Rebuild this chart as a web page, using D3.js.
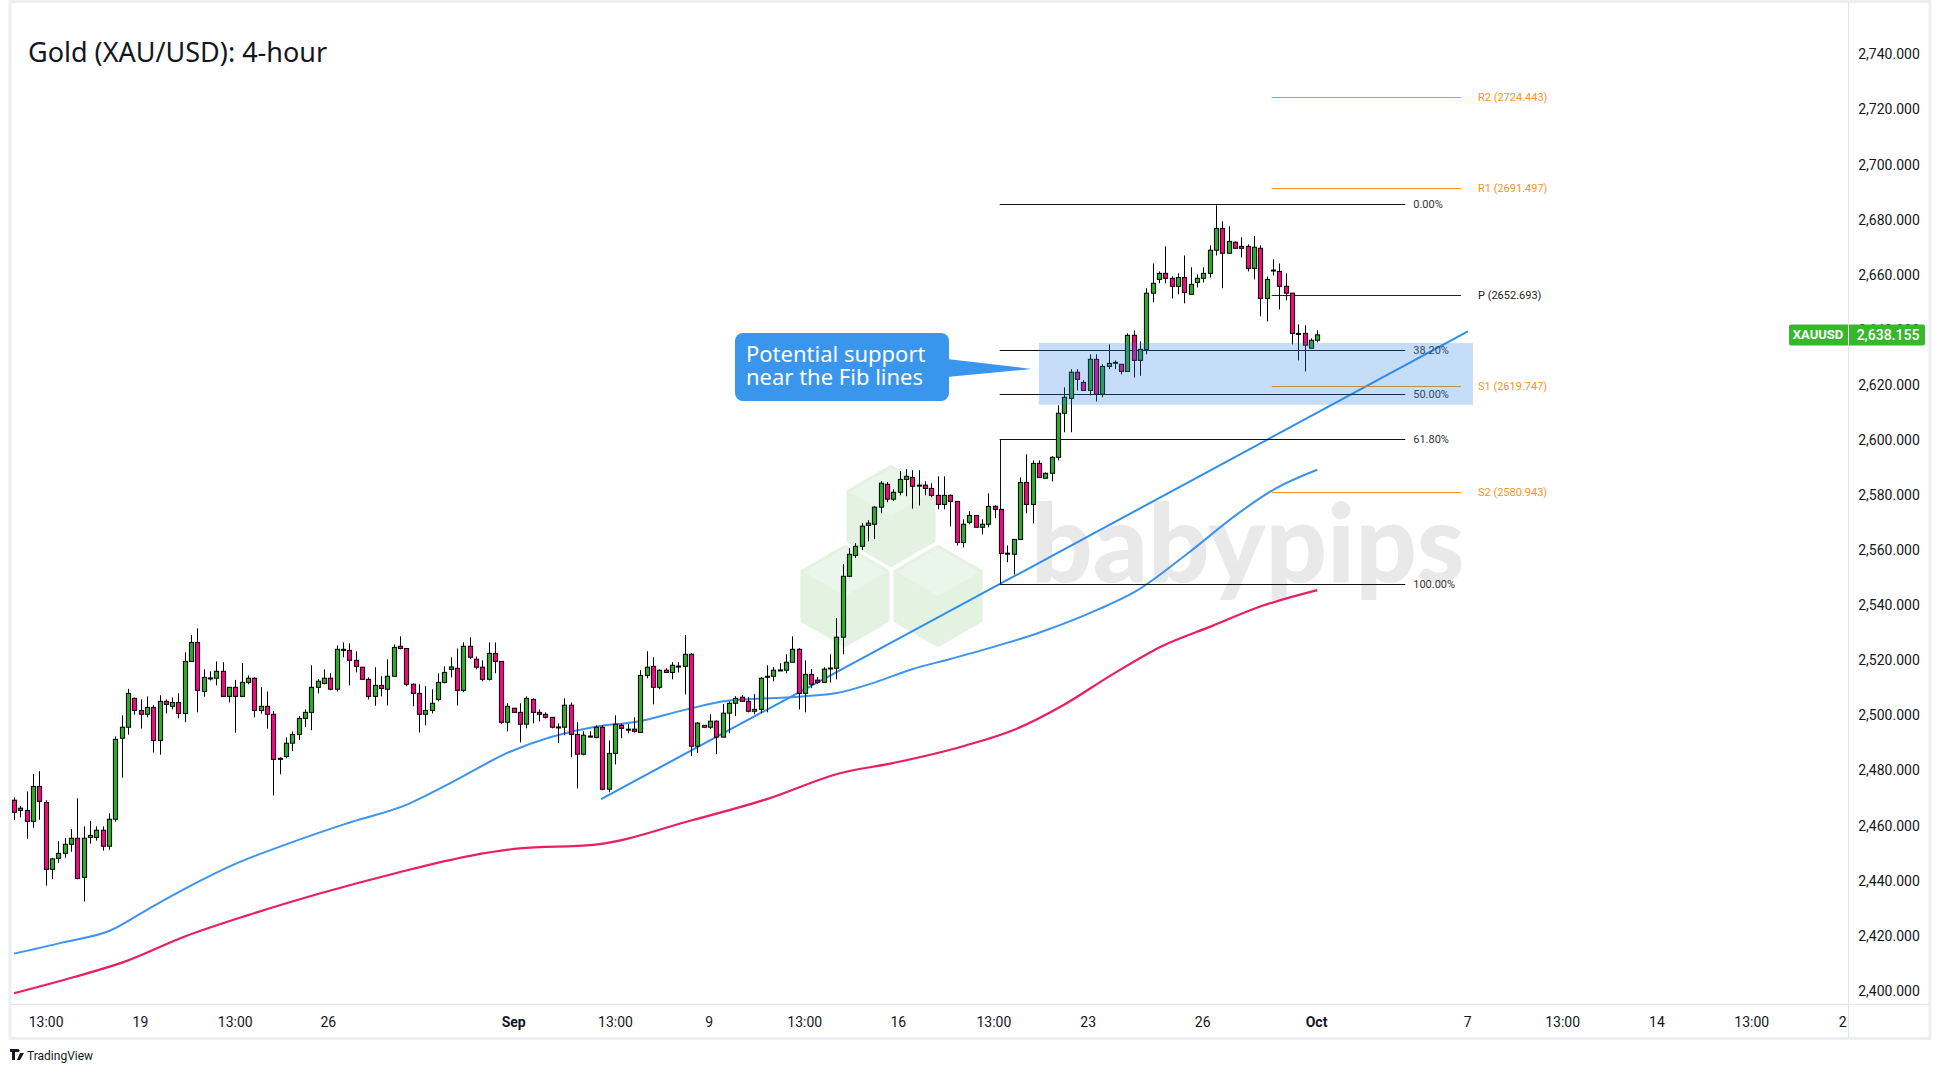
<!DOCTYPE html>
<html><head><meta charset="utf-8">
<script src="https://cdn.jsdelivr.net/npm/d3@7"></script>
<style>
html,body{margin:0;padding:0;background:#fff;}
svg{display:block;}
</style></head><body>
<svg id="c" width="1940" height="1074"></svg>
<script>
// ---- DATA ----
const openP=[2469.2,2466.3,2465.5,2461.5,2474.2,2468.4,2444.1,2448.1,2449.9,2453.2,2455.4,2441.2,2455.7,2455.7,2458.3,2452.5,2462.3,2491.7,2495.7,2506.2,2501.8,2500.4,2502.9,2490.9,2505.1,2503.3,2504.7,2500.7,2519.6,2526.5,2508.7,2513.5,2513.5,2516.0,2506.9,2510.2,2506.9,2512.0,2513.5,2501.8,2503.3,2500.4,2484.4,2485.1,2489.9,2493.1,2498.9,2501.1,2510.2,2511.6,2513.5,2509.5,2524.0,2523.6,2520.0,2517.5,2513.1,2506.9,2510.9,2509.5,2514.2,2525.1,2524.3,2511.3,2508.0,2500.4,2501.8,2505.8,2512.0,2516.7,2517.1,2509.1,2525.1,2520.4,2517.5,2513.1,2522.5,2519.6,2497.5,2502.6,2501.1,2496.8,2505.8,2501.1,2500.4,2499.3,2495.7,2495.7,2503.7,2493.1,2485.9,2492.4,2492.0,2495.7,2473.2,2486.2,2496.4,2495.0,2495.0,2493.8,2514.5,2517.8,2510.2,2516.4,2515.6,2517.8,2517.8,2522.2,2488.8,2496.4,2495.7,2497.9,2492.1,2500.8,2504.4,2506.6,2505.1,2501.5,2502.2,2513.9,2514.2,2516.4,2516.4,2519.3,2524.0,2508.0,2514.9,2512.8,2512.0,2517.1,2517.1,2528.4,2550.5,2558.1,2561.4,2569.0,2569.4,2575.6,2583.9,2578.5,2581.0,2585.7,2586.4,2583.6,2583.6,2582.4,2579.9,2576.6,2579.9,2577.7,2562.8,2570.1,2572.6,2568.3,2569.4,2575.9,2574.8,2558.8,2558.5,2563.9,2584.6,2576.6,2591.5,2586.1,2587.9,2593.7,2609.7,2615.1,2624.6,2620.9,2618.0,2629.3,2616.6,2626.7,2628.2,2627.5,2624.9,2638.0,2628.9,2632.9,2653.3,2658.3,2660.5,2658.7,2655.8,2659.0,2652.9,2657.2,2658.7,2660.5,2668.9,2676.8,2667.8,2671.8,2670.3,2670.3,2662.3,2669.6,2651.4,2661.6,2661.2,2655.8,2653.3,2638.7,2638.7,2633.3,2636.2];
const highP=[2470.2,2467.1,2472.4,2478.7,2479.7,2469.2,2448.2,2454.3,2455.5,2458.7,2469.9,2459.7,2461.7,2459.7,2459.7,2464.4,2492.4,2500.0,2509.6,2506.5,2505.8,2506.9,2503.7,2507.3,2505.8,2506.5,2508.0,2522.9,2529.2,2531.6,2516.7,2516.0,2519.6,2519.3,2510.2,2512.9,2519.0,2514.5,2513.8,2510.2,2508.7,2501.5,2484.8,2492.0,2494.2,2499.7,2502.2,2518.2,2513.1,2516.7,2515.3,2525.4,2526.5,2526.2,2523.3,2517.5,2513.8,2517.5,2514.2,2520.4,2525.8,2528.7,2524.3,2511.6,2511.3,2510.6,2509.5,2515.3,2517.8,2521.1,2524.3,2526.5,2528.3,2521.4,2520.0,2526.5,2526.5,2519.6,2504.4,2502.6,2504.4,2506.9,2506.2,2502.2,2501.1,2499.3,2497.1,2506.2,2504.7,2497.5,2494.2,2494.2,2496.4,2496.4,2490.9,2500.0,2497.1,2496.8,2499.3,2516.4,2523.3,2521.1,2516.7,2517.1,2519.3,2519.3,2529.2,2522.6,2497.5,2496.4,2500.4,2498.2,2504.1,2505.1,2507.0,2507.3,2506.6,2507.7,2513.9,2518.2,2517.5,2518.9,2522.2,2528.7,2524.4,2520.0,2516.8,2513.9,2517.5,2522.2,2535.3,2554.9,2560.7,2562.5,2569.8,2570.9,2575.9,2585.0,2584.7,2582.1,2588.7,2589.4,2589.0,2589.0,2585.0,2584.3,2586.8,2586.8,2580.2,2577.7,2571.2,2574.1,2572.6,2571.2,2580.6,2576.3,2574.8,2561.7,2563.9,2586.4,2594.8,2592.6,2592.6,2588.2,2594.1,2612.6,2619.1,2625.7,2625.7,2621.7,2631.1,2631.1,2627.5,2634.7,2628.9,2627.5,2638.7,2639.8,2635.8,2655.1,2664.1,2661.2,2670.3,2659.4,2660.5,2667.0,2662.7,2660.1,2662.7,2670.7,2685.2,2679.4,2677.6,2672.1,2673.6,2671.0,2674.0,2670.7,2659.4,2665.6,2664.1,2660.5,2653.3,2642.0,2641.6,2636.9,2639.8];
const lowP=[2462.0,2463.0,2455.2,2459.2,2462.1,2438.2,2440.5,2446.5,2448.3,2450.5,2440.5,2432.4,2453.4,2454.5,2450.9,2451.2,2461.4,2477.4,2493.0,2500.3,2495.2,2499.3,2486.5,2485.7,2500.7,2502.2,2498.9,2497.5,2519.6,2501.1,2506.8,2512.7,2510.9,2506.9,2504.7,2493.7,2506.9,2511.3,2499.3,2500.6,2495.2,2470.9,2478.6,2484.4,2487.0,2491.0,2495.7,2494.6,2508.0,2511.3,2509.1,2508.7,2521.1,2510.9,2515.6,2513.1,2505.8,2503.5,2506.9,2503.6,2514.2,2524.0,2510.6,2503.3,2493.8,2496.4,2500.7,2505.1,2511.6,2513.8,2503.6,2508.4,2520.4,2516.7,2512.4,2512.7,2515.3,2496.8,2494.2,2501.1,2490.2,2495.3,2497.1,2497.8,2498.9,2495.3,2489.9,2492.8,2484.8,2473.5,2485.5,2492.0,2491.7,2472.8,2472.1,2482.2,2491.7,2493.5,2493.8,2493.8,2513.5,2504.0,2509.5,2515.6,2513.1,2515.6,2507.6,2485.2,2486.3,2495.7,2495.0,2485.9,2492.1,2493.5,2499.7,2505.1,2501.1,2500.4,2500.8,2501.1,2512.4,2516.4,2515.3,2519.3,2502.2,2501.1,2509.9,2511.3,2512.0,2512.0,2513.1,2522.2,2550.2,2557.1,2560.0,2563.2,2564.0,2573.4,2577.4,2577.8,2579.9,2579.6,2575.1,2576.2,2579.9,2579.2,2574.8,2574.8,2568.6,2561.7,2561.0,2569.4,2568.3,2565.7,2568.3,2571.6,2558.8,2555.6,2551.2,2563.9,2573.4,2569.7,2586.4,2586.1,2585.0,2592.6,2602.8,2602.8,2618.0,2618.0,2616.2,2614.0,2615.5,2625.7,2625.7,2623.8,2624.9,2622.7,2623.3,2631.1,2650.0,2656.9,2656.9,2651.4,2652.9,2649.6,2652.9,2655.4,2657.2,2659.0,2667.0,2655.1,2667.8,2669.6,2666.3,2661.2,2658.3,2644.9,2643.1,2659.8,2647.4,2650.7,2634.7,2628.9,2624.9,2633.3,2635.4];
const closeP=[2464.8,2465.5,2461.5,2474.2,2468.8,2444.1,2447.9,2449.9,2453.2,2455.4,2440.8,2455.4,2456.4,2458.3,2452.5,2462.3,2491.3,2495.7,2508.0,2501.8,2500.4,2502.9,2490.9,2505.1,2504.0,2504.7,2500.7,2519.6,2526.5,2509.1,2513.8,2513.6,2516.0,2506.9,2510.2,2506.9,2512.0,2513.5,2501.8,2503.3,2500.4,2484.0,2484.2,2489.9,2493.1,2498.9,2501.1,2510.2,2512.4,2513.5,2509.5,2524.0,2523.6,2520.0,2517.8,2513.1,2506.9,2510.9,2509.8,2514.2,2524.7,2524.3,2511.3,2508.0,2500.4,2501.8,2504.4,2512.0,2515.6,2517.6,2509.1,2525.1,2521.1,2517.5,2513.1,2522.5,2519.6,2497.5,2503.3,2501.1,2496.8,2506.2,2501.1,2500.4,2499.3,2495.7,2495.8,2503.7,2493.1,2485.9,2492.8,2492.5,2495.7,2473.2,2486.2,2496.8,2495.3,2494.9,2494.2,2514.5,2517.5,2510.2,2516.4,2515.6,2518.2,2517.9,2522.2,2488.8,2497.2,2495.7,2497.9,2492.1,2500.8,2504.4,2506.2,2505.1,2501.5,2502.2,2513.5,2514.2,2516.4,2516.5,2519.3,2524.0,2508.0,2514.9,2511.3,2512.0,2516.8,2517.2,2528.4,2550.5,2558.5,2561.4,2568.7,2569.8,2575.6,2584.3,2578.5,2581.0,2585.7,2586.8,2583.2,2583.5,2582.4,2579.9,2576.6,2579.9,2577.7,2562.8,2569.4,2572.6,2568.3,2569.4,2575.9,2574.8,2558.8,2558.9,2563.9,2584.6,2576.6,2591.5,2586.4,2587.9,2593.7,2609.7,2615.5,2624.6,2622.0,2618.0,2629.3,2616.6,2626.7,2627.8,2628.2,2624.9,2638.0,2628.9,2632.9,2653.3,2656.9,2660.5,2658.7,2655.8,2659.0,2653.6,2656.5,2658.7,2660.5,2668.9,2676.8,2667.8,2672.1,2669.6,2669.6,2662.3,2670.0,2651.4,2658.3,2661.7,2655.8,2653.3,2638.7,2638.6,2634.4,2636.2,2638.155];

const maBlueIdx=[0,7.6,15.3,21.2,27.2,34.9,42.8,52.5,62.3,68.9,78.4,92.1,98.2,106,112.8,122,129.8,136.1,141.6,148,154.3,162,171.2,177.2,185.4,193.3,199.1,206];
const maBlueVal=[2413.5,2417.5,2422,2429.7,2437.3,2446,2453,2460.7,2467.8,2475.3,2486.8,2496,2497.6,2502,2505.3,2506.5,2508,2512,2516.5,2520.5,2524.5,2530,2538.3,2544.9,2558.6,2573,2582,2589.2];
const maPinkIdx=[0,9.5,17.3,27.1,36.9,48.6,60.3,72.1,79.9,91.6,107.3,119,130.7,138.5,150.3,158.1,165.9,173.7,181.6,189.4,197.2,206];
const maPinkVal=[2399.1,2405,2410.4,2419.8,2427.4,2435.5,2442.7,2449,2451.7,2453,2462,2469.6,2479.1,2482.5,2489,2494.8,2503.8,2515,2525.3,2532.5,2539.7,2545.5];

const xTickIdx=[5,19.9,34.9,49.6,78.9,95,109.8,124.9,139.7,154.8,169.7,187.8,205.8,229.7,244.7,259.6,274.6,289.6];
const xTickLabels=["13:00","19","13:00","26","Sep","13:00","9","13:00","16","13:00","23","26","Oct","7","13:00","14","13:00","21"];
const boldTicks=["Sep","Oct"];
const yTicks=d3.range(2400,2741,20);

const fibLevels=[0,0.382,0.5,0.618,1];
const fibLabels=["0.00%","38.20%","50.00%","61.80%","100.00%"];
const fibHigh=2685.5, fibLow=2547.6, fibStartIdx=155.8, fibEndIdx=219.9;
const pivotNames=["R2","R1","P","S1","S2"];
const pivotValues=[2724.443,2691.497,2652.693,2619.747,2580.943];
const pivotStartIdx=198.8, pivotEndIdx=228.7, pivotLabelIdx=231.4;
const trendIdx=[92.8,229.8], trendVal=[2469.6,2639.4];
const zoneIdx=[162,230.6], zoneVal=[2635.2,2612.8];
const calloutTip=[160.8,2625.8];
const calloutLines=["Potential support","near the Fib lines"];
const lastPrice=2638.155, symbol="XAUUSD";
const title="Gold (XAU/USD): 4-hour";

// ---- DRAW ----
const svg=d3.select("#c");
const W=1940,H=1074, axisX=1848, axisY=1004;
const x=d3.scaleLinear().domain([0,206]).range([14,1317.3]);
const y=d3.scaleLinear().domain([2400,2740]).range([990.8,54.4]);
const UP="#2fa82b", DN="#f2077f", FONT="Roboto, 'Noto Sans', sans-serif";

svg.append("rect").attr("width",W).attr("height",H).attr("fill","#fff");
const defs=svg.append("defs");
defs.append("clipPath").attr("id","pane").append("rect").attr("x",11).attr("y",3).attr("width",axisX-11).attr("height",axisY-3);
defs.append("clipPath").attr("id","xax").append("rect").attr("x",11).attr("y",axisY).attr("width",axisX-11).attr("height",35);

const pane=svg.append("g").attr("clip-path","url(#pane)");

// watermark hex cubes
function hex(cx,cy,r){const p=[];for(let k=0;k<6;k++){const a=Math.PI/180*(60*k-90);p.push([cx+r*Math.cos(a),cy+r*Math.sin(a)]);}return p;}
[[891,516],[845,596],[938,596]].forEach(([cx,cy])=>{
  const r=48, p=hex(cx,cy,r);
  pane.append("path").attr("d","M"+p.map(d=>d.join(",")).join("L")+"Z").attr("fill","#e3f2e1").attr("stroke","#e3f2e1").attr("stroke-width",6).attr("stroke-linejoin","round");
  const top=[p[0],p[1],[cx,cy],p[5]];
  pane.append("path").attr("d","M"+top.map(d=>d.join(",")).join("L")+"Z").attr("fill","#eaf6e9");
});
pane.append("text").attr("x",1031).attr("y",582).attr("font-family","Lato, 'Noto Sans', sans-serif").attr("font-weight",900)
  .attr("font-size",108).attr("fill","#e9e9e9").text("babypips");

// moving averages
const line=d3.line().x(d=>x(d[0])).y(d=>y(d[1])).curve(d3.curveMonotoneX);
pane.append("path").attr("d",line(maPinkIdx.map((v,i)=>[v,maPinkVal[i]]))).attr("fill","none").attr("stroke","#e91e63").attr("stroke-width",2.2);
pane.append("path").attr("d",line(maBlueIdx.map((v,i)=>[v,maBlueVal[i]]))).attr("fill","none").attr("stroke","#3d94ee").attr("stroke-width",2);
// trend line
pane.append("line").attr("x1",x(trendIdx[0])).attr("y1",y(trendVal[0])).attr("x2",x(trendIdx[1])).attr("y2",y(trendVal[1]))
  .attr("stroke","#2f8fec").attr("stroke-width",2);

// fib
const fibVals=fibLevels.map(l=>fibHigh-l*(fibHigh-fibLow));
fibVals.forEach((v,i)=>{
  const yy=Math.round(y(v))+0.5;
  pane.append("line").attr("x1",x(fibStartIdx)).attr("x2",x(fibEndIdx)).attr("y1",yy).attr("y2",yy).attr("stroke","#111").attr("stroke-width",1);
  pane.append("text").attr("x",x(fibEndIdx)+8).attr("y",yy).attr("dy","0.35em").attr("font-family",FONT).attr("font-size",11).attr("fill","#333").text(fibLabels[i]);
});
pane.append("line").attr("x1",Math.round(x(fibStartIdx))+0.5).attr("x2",Math.round(x(fibStartIdx))+0.5).attr("y1",y(fibVals[3])).attr("y2",y(fibVals[4])).attr("stroke","#111");

// pivots
pivotValues.forEach((v,i)=>{
  const yy=Math.round(y(v))+0.5, col=pivotNames[i]==="P"?"#222":"#f7931e";
  pane.append("line").attr("x1",x(pivotStartIdx)).attr("x2",x(pivotEndIdx)).attr("y1",yy).attr("y2",yy).attr("stroke",col).attr("stroke-width",1);
  pane.append("text").attr("x",x(pivotLabelIdx)).attr("y",yy).attr("dy","0.35em").attr("font-family",FONT).attr("font-size",11)
    .attr("fill",col).text(`${pivotNames[i]} (${v.toFixed(3)})`);
});

// candles
const bw=(x(1)-x(0))*0.66;
const cg=pane.append("g");
openP.forEach((o,i)=>{
  const c=closeP[i], h=highP[i], l=lowP[i], cx=Math.round(x(i))+0.5;
  cg.append("line").attr("x1",cx).attr("x2",cx).attr("y1",y(h)).attr("y2",y(l)).attr("stroke","#000").attr("stroke-width",1);
  const top=y(Math.max(o,c)), bot=y(Math.min(o,c));
  cg.append("rect").attr("x",cx-bw/2).attr("y",top).attr("width",bw).attr("height",Math.max(1,bot-top))
    .attr("fill",c>=o?UP:DN).attr("stroke","#000").attr("stroke-width",1);
});

// support zone
pane.append("rect").attr("x",x(zoneIdx[0])).attr("y",y(zoneVal[0])).attr("width",x(zoneIdx[1])-x(zoneIdx[0])).attr("height",y(zoneVal[1])-y(zoneVal[0]))
  .attr("fill","rgba(41,131,230,0.27)");

// callout
const cb={x:735,y:333,w:214,h:68};
const tipX=x(calloutTip[0]), tipY=y(calloutTip[1]);
pane.append("path").attr("d",`M${cb.x+cb.w-2},${cb.y+26}L${tipX},${tipY}L${cb.x+cb.w-2},${cb.y+44}Z`).attr("fill","#3a95ec");
pane.append("rect").attr("x",cb.x).attr("y",cb.y).attr("width",cb.w).attr("height",cb.h).attr("rx",8).attr("fill","#3a95ec");
calloutLines.forEach((t,i)=>pane.append("text").attr("x",cb.x+11).attr("y",cb.y+29+i*23).attr("font-family","'Noto Sans', sans-serif")
  .attr("font-size",22).attr("fill","#fff").text(t));

// title
svg.append("text").attr("x",28).attr("y",62).attr("font-family","'Noto Sans', sans-serif").attr("font-size",27).attr("fill","#131722").text(title);

// frame & axes lines
svg.append("rect").attr("x",10).attr("y",1.5).attr("width",1920).attr("height",1037).attr("fill","none").attr("stroke","#eceef4").attr("stroke-width",3);
svg.append("line").attr("x1",axisX+0.5).attr("x2",axisX+0.5).attr("y1",2).attr("y2",1038).attr("stroke","#e0e3eb");
svg.append("line").attr("x1",11).attr("x2",1929).attr("y1",axisY+0.5).attr("y2",axisY+0.5).attr("stroke","#e0e3eb");

// y axis
const ya=svg.append("g").attr("transform",`translate(${axisX},0)`).call(d3.axisRight(y).tickValues(yTicks).tickSize(0).tickFormat(d3.format(",.3f")));
ya.select(".domain").remove();
ya.selectAll("text").attr("x",41).attr("text-anchor","middle").attr("font-family",FONT).attr("font-size",14).attr("fill","#131722");

// x axis
const xa=svg.append("g").attr("clip-path","url(#xax)").append("g").attr("transform",`translate(0,${axisY})`)
  .call(d3.axisBottom(x).tickValues(xTickIdx).tickSize(0).tickFormat((d,i)=>xTickLabels[i]));
xa.select(".domain").remove();
xa.selectAll("text").attr("y",13).attr("dy","0.71em").attr("font-family",FONT).attr("font-size",14).attr("fill","#131722")
  .attr("font-weight",(d,i)=>boldTicks.includes(xTickLabels[i])?700:400);

// last price label
const ly=y(lastPrice);
svg.append("rect").attr("x",1789).attr("y",ly-10.5).attr("width",136).attr("height",21).attr("rx",2).attr("fill","#37b82c");
svg.append("line").attr("x1",axisX+0.5).attr("x2",axisX+0.5).attr("y1",ly-10.5).attr("y2",ly+10.5).attr("stroke","#fff");
svg.append("text").attr("x",1818).attr("y",ly).attr("dy","0.35em").attr("text-anchor","middle").attr("font-family",FONT).attr("font-weight",700).attr("font-size",13).attr("fill","#fff").text(symbol);
svg.append("text").attr("x",1888).attr("y",ly).attr("dy","0.35em").attr("text-anchor","middle").attr("font-family",FONT).attr("font-weight",500).attr("font-size",14).attr("fill","#fff").text(d3.format(",.3f")(lastPrice));

// TradingView logo
const tv=svg.append("g").attr("transform","translate(10,1049)");
tv.append("path").attr("d","M0,0H7V3H5V11H2V3H0Z M8,0A1.6,1.6 0 1 1 8,3.2A1.6,1.6 0 1 1 8,0Z M10,4H14L10,11H7Z").attr("fill","#131722");
tv.append("text").attr("x",17).attr("y",10.5).attr("font-family",FONT).attr("font-size",12).attr("fill","#131722").text("TradingView");
</script>
</body></html>
